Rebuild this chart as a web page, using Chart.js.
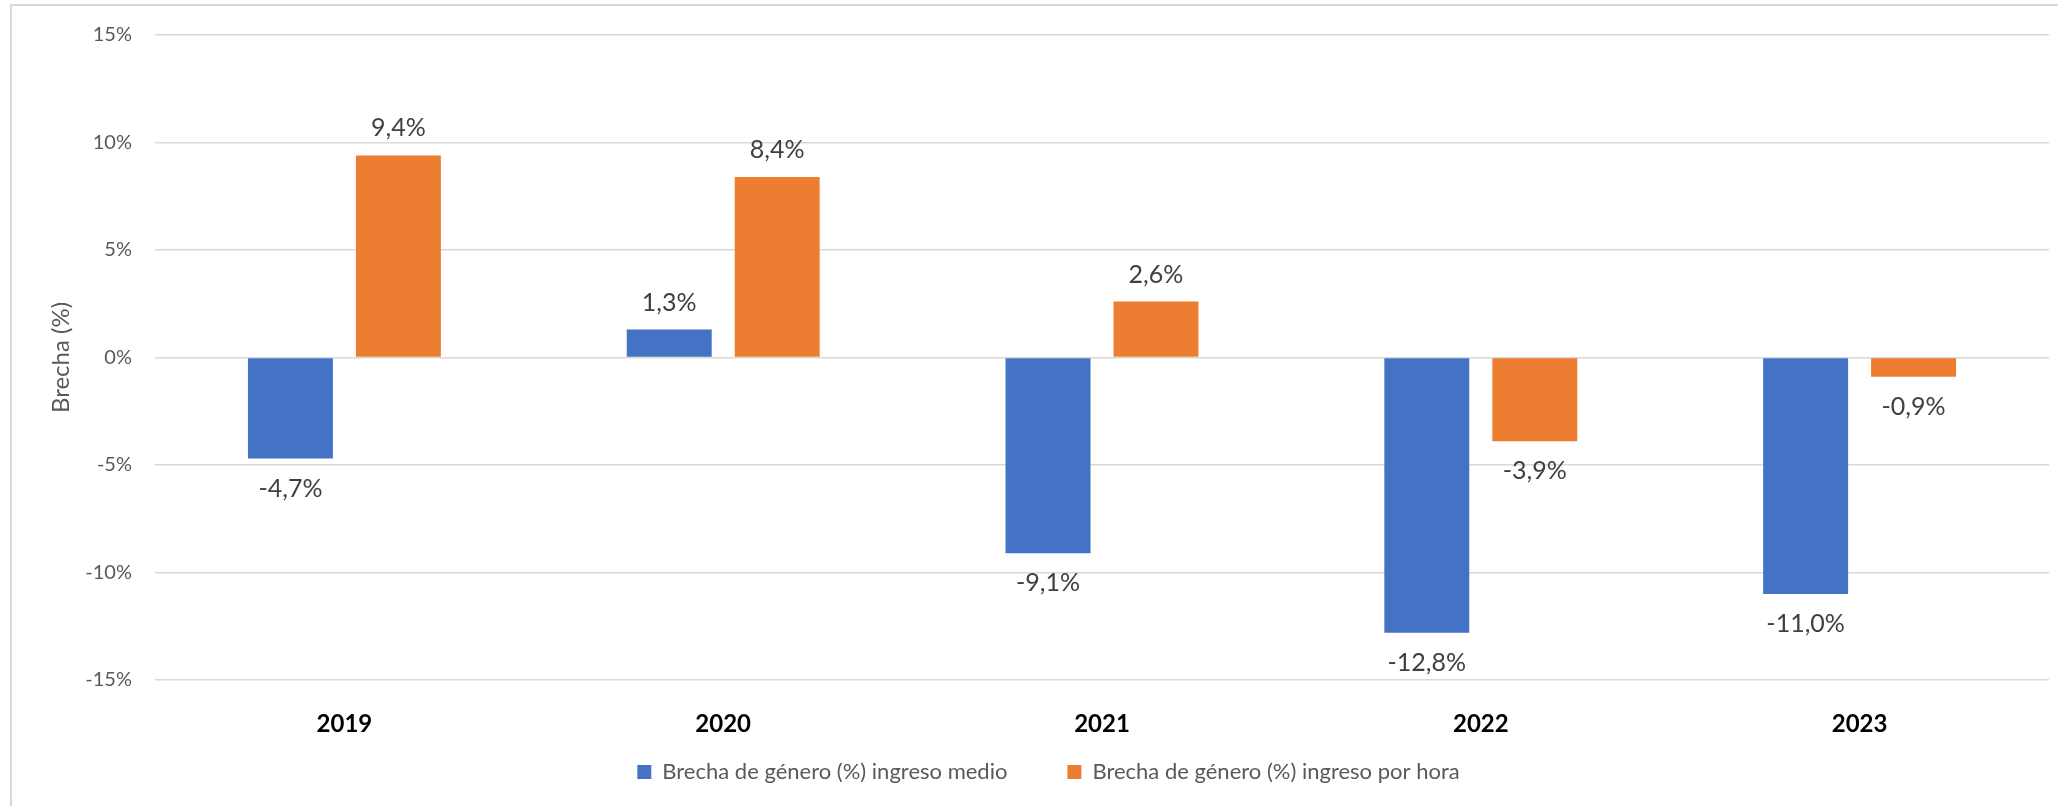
<!DOCTYPE html>
<html lang="es">
<head>
<meta charset="utf-8">
<title>Brecha de género</title>
<script src="https://cdn.jsdelivr.net/npm/chart.js@4.4.1/dist/chart.umd.min.js"></script>
<style>
    html, body { margin: 0; padding: 0; background: #fff; }
    #wrap { position: relative; width: 2058px; height: 806px; }
</style>
</head>
<body>
<div id="wrap"><canvas id="brechaChart"></canvas></div>
<script>
const anios = ['2019', '2020', '2021', '2022', '2023'];
const brechaMedio = [-4.7, 1.3, -9.1, -12.8, -11.0];
const brechaHora = [9.4, 8.4, 2.6, -3.9, -0.9];
const ticksY = [-15, -10, -5, 0, 5, 10, 15];

const etiquetaMedio = 'Brecha de género (%) ingreso medio';
const etiquetaHora = 'Brecha de género (%) ingreso por hora';

const fuente = 'Lato, Calibri, "Open Sans", sans-serif';

const formatoPct = (v) => v.toFixed(1).replace('.', ',') + '%';

// marco gris claro del gráfico (sale por la derecha y por abajo)
const marco = {
    id: 'marco',
    beforeDraw(chart) {
        const ctx = chart.ctx;
        ctx.save();
        ctx.strokeStyle = '#d9d9d9';
        ctx.lineWidth = 2;
        ctx.strokeRect(11, 5, chart.width + 100, chart.height + 100);
        ctx.restore();
    }
};

// etiquetas de valor encima / debajo de cada barra
const etiquetasValor = {
    id: 'etiquetasValor',
    afterDatasetsDraw(chart) {
        const ctx = chart.ctx;
        ctx.save();
        ctx.font = '25px ' + fuente;
        ctx.fillStyle = '#404040';
        ctx.textAlign = 'center';
        ctx.textBaseline = 'middle';
        chart.data.datasets.forEach((ds, i) => {
            chart.getDatasetMeta(i).data.forEach((barra, j) => {
                const valor = ds.data[j];
                const y = valor >= 0 ? barra.y - 27 : barra.y + 30;
                ctx.fillText(formatoPct(valor), barra.x, y);
            });
        });
        ctx.restore();
    }
};

// la leyenda de Excel está algo corrida a la derecha
const leyendaCorrida = {
    id: 'leyendaCorrida',
    afterLayout(chart) {
        if (chart.legend) {
            chart.legend.left += 48;
        }
    }
};

const ctx = document.getElementById('brechaChart');

new Chart(ctx, {
    type: 'bar',
    data: {
        labels: anios,
        datasets: [
            {
                label: etiquetaMedio,
                data: brechaMedio,
                backgroundColor: '#4472C4',
                borderWidth: 0
            },
            {
                label: etiquetaHora,
                data: brechaHora,
                backgroundColor: '#ED7D31',
                borderWidth: 0
            }
        ]
    },
    options: {
        responsive: true,
        maintainAspectRatio: false,
        animation: false,
        datasets: {
            bar: {
                categoryPercentage: 0.57,
                barPercentage: 0.787
            }
        },
        layout: {
            padding: { top: 34, right: 9, bottom: 13, left: 0 }
        },
        plugins: {
            tooltip: { enabled: false },
            legend: {
                position: 'bottom',
                labels: {
                    boxWidth: 14,
                    boxHeight: 14,
                    padding: 60,
                    color: '#595959',
                    font: { family: fuente, size: 22 }
                }
            }
        },
        scales: {
            x: {
                grid: { display: false },
                border: { display: false },
                ticks: {
                    color: '#000',
                    padding: 22,
                    font: { family: fuente, size: 24, weight: 'bold' }
                },
                afterFit(scale) {
                    // eje bajo y sin recorte, para que la leyenda quede donde en el original
                    scale.height = 21;
                    scale._computeLabelArea = () => null;
                }
            },
            y: {
                min: -15,
                max: 15,
                afterBuildTicks(scale) {
                    scale.ticks = ticksY.map(v => ({ value: v }));
                },
                grid: {
                    color: '#d9d9d9',
                    lineWidth: 1.5,
                    drawTicks: false
                },
                border: { display: false },
                ticks: {
                    color: '#595959',
                    padding: 23,
                    font: { family: fuente, size: 20 },
                    callback: (v) => v + '%'
                },
                title: {
                    display: true,
                    text: 'Brecha (%)',
                    color: '#595959',
                    font: { family: fuente, size: 24 },
                    padding: { top: 47, bottom: 0 }
                },
                afterFit(scale) {
                    scale.width = 155;
                }
            }
        }
    },
    plugins: [marco, etiquetasValor, leyendaCorrida]
});
</script>
</body>
</html>
